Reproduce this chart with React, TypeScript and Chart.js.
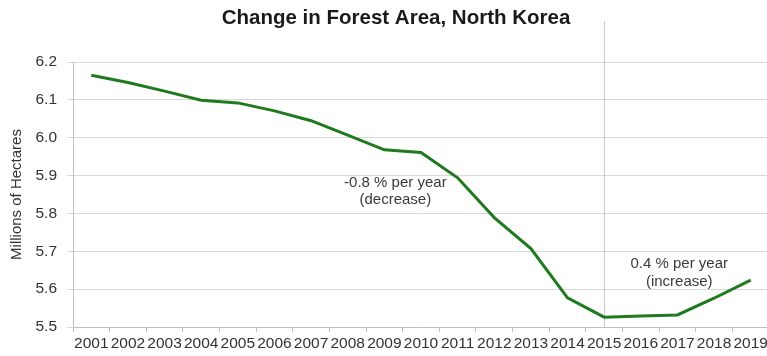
import React, { useEffect, useRef } from 'react';
import { Chart, registerables } from 'chart.js';

Chart.register(...registerables);

const years = ['2001', '2002', '2003', '2004', '2005', '2006', '2007', '2008', '2009', '2010', '2011', '2012', '2013', '2014', '2015', '2016', '2017', '2018', '2019'];
const forestArea = [6.165, 6.146, 6.123, 6.099, 6.092, 6.071, 6.045, 6.007, 5.968, 5.961, 5.894, 5.789, 5.707, 5.577, 5.526, 5.529, 5.532, 5.576, 5.624];
const yMin = 5.5;
const yMax = 6.2;
const yStep = 0.1;
const titleText = 'Change in Forest Area, North Korea';
const yAxisTitle = 'Millions of Hectares';
const decreaseNote = ['-0.8 % per year', '(decrease)'];
const increaseNote = ['0.4 % per year', '(increase)'];
const markerYear = '2015';

const FONT = "'Liberation Sans', Arial, Helvetica, sans-serif";

const overlayPlugin = {
  id: 'overlay',
  beforeDatasetsDraw(chart: any) {
    const { ctx, scales, chartArea } = chart;
    const x = scales.x;
    const idx = years.indexOf(markerYear);
    const px = Math.round(x.getPixelForValue(idx)) + 0.5;
    ctx.save();
    ctx.strokeStyle = '#c8c8c8';
    ctx.lineWidth = 1;
    ctx.beginPath();
    ctx.moveTo(px, 21);
    ctx.lineTo(px, chartArea.bottom);
    ctx.stroke();
    ctx.restore();
  },
  afterDatasetsDraw(chart: any) {
    const { ctx, scales, width } = chart;
    const x = scales.x;
    const y = scales.y;
    const xAt = (v: number) => {
      const a = x.getPixelForValue(Math.floor(v));
      const b = x.getPixelForValue(Math.floor(v) + 1);
      return a + (b - a) * (v - Math.floor(v));
    };
    ctx.save();
    ctx.textAlign = 'center';
    ctx.textBaseline = 'middle';
    ctx.font = `bold 20.5px ${FONT}`;
    ctx.fillStyle = '#1a1a1a';
    ctx.fillText(titleText, width / 2, 18);
    ctx.font = `15px ${FONT}`;
    ctx.fillStyle = '#3a3a3a';
    const dx = xAt(8.3);
    ctx.fillText(decreaseNote[0], dx, y.getPixelForValue(5.882));
    ctx.fillText(decreaseNote[1], dx, y.getPixelForValue(5.837));
    const ix = xAt(16.05);
    ctx.fillText(increaseNote[0], ix, y.getPixelForValue(5.666));
    ctx.fillText(increaseNote[1], ix, y.getPixelForValue(5.619));
    ctx.restore();
  },
};

export default function App() {
  const canvasRef = useRef<HTMLCanvasElement | null>(null);

  useEffect(() => {
    if (!canvasRef.current) return;
    const chart = new Chart(canvasRef.current, {
      type: 'line',
      data: {
        labels: years,
        datasets: [
          {
            data: forestArea,
            borderColor: '#1f7a1f',
            borderWidth: 3,
            pointRadius: 0,
            tension: 0,
            fill: false,
          },
        ],
      },
      options: {
        animation: false,
        responsive: true,
        maintainAspectRatio: false,
        layout: { padding: { left: 0, right: 23, top: 62, bottom: 0 } },
        plugins: {
          legend: { display: false },
          tooltip: { enabled: false },
          title: { display: false },
        },
        scales: {
          x: {
            type: 'category',
            offset: true,
            grid: {
              display: true,
              drawOnChartArea: false,
              drawTicks: true,
              tickLength: 5,
              offset: true,
              color: '#bfbfbf',
            },
            border: { display: true, color: '#bfbfbf' },
            ticks: {
              color: '#333333',
              font: { family: FONT, size: 15.5 },
              maxRotation: 0,
              autoSkip: false,
              padding: 2,
            },
            afterFit: (scale: any) => {
              scale.height = 29;
            },
          },
          y: {
            min: yMin,
            max: yMax,
            grid: {
              color: '#d9d9d9',
              tickLength: 6,
            },
            border: { display: true, color: '#bfbfbf' },
            ticks: {
              stepSize: yStep,
              color: '#333333',
              font: { family: FONT, size: 15.5 },
              padding: 10,
              callback: (v: any) => Number(v).toFixed(1),
            },
            title: {
              display: true,
              text: yAxisTitle,
              color: '#333333',
              font: { family: FONT, size: 15 },
              padding: { top: 8, bottom: 0 },
            },
            afterFit: (scale: any) => {
              scale.width = 73;
            },
          },
        },
      },
      plugins: [overlayPlugin],
    });
    return () => chart.destroy();
  }, []);

  return (
    <div style={{ position: 'fixed', left: 0, top: 0, width: 767, height: 356, overflow: 'hidden', background: '#fff' }}>
      <div style={{ position: 'relative', width: 792, height: 356 }}>
        <canvas ref={canvasRef} />
      </div>
    </div>
  );
}
